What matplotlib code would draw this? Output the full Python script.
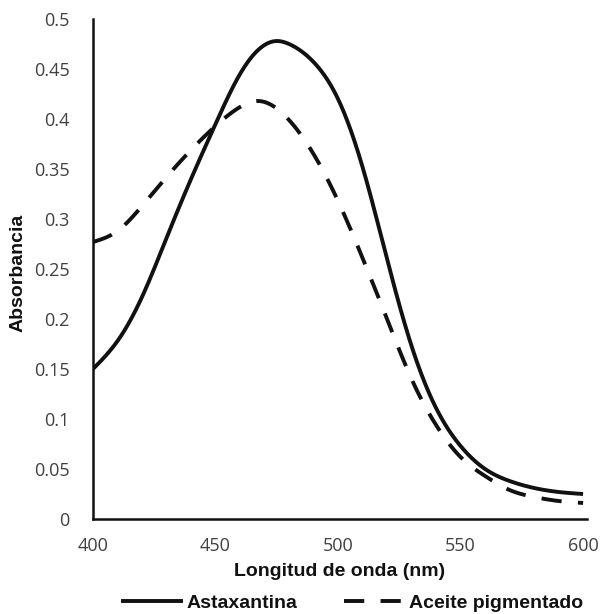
import matplotlib
matplotlib.use("Agg")
import matplotlib.pyplot as plt
import numpy as np

wl_ast = [400, 410, 420, 430, 440, 450, 460, 470, 475, 480, 490, 500, 510, 520, 530, 540, 550, 560, 570, 580, 590, 600]
abs_ast = [0.150, 0.178, 0.222, 0.281, 0.340, 0.395, 0.445, 0.474, 0.478, 0.475, 0.457, 0.420, 0.352, 0.260, 0.173, 0.111, 0.073, 0.050, 0.038, 0.031, 0.027, 0.025]

wl_oil = [400, 410, 420, 430, 440, 450, 460, 467, 470, 480, 490, 500, 510, 520, 530, 540, 550, 560, 570, 580, 590, 600]
abs_oil = [0.277, 0.288, 0.313, 0.342, 0.369, 0.393, 0.412, 0.418, 0.417, 0.399, 0.365, 0.318, 0.261, 0.200, 0.140, 0.094, 0.062, 0.043, 0.029, 0.022, 0.018, 0.016]

x_ticks = [400, 450, 500, 550, 600]
y_ticks = [0, 0.05, 0.1, 0.15, 0.2, 0.25, 0.3, 0.35, 0.4, 0.45, 0.5]
y_tick_labels = ["0", "0.05", "0.1", "0.15", "0.2", "0.25", "0.3", "0.35", "0.4", "0.45", "0.5"]


def natural_spline(x, y, n=600):
    x = np.asarray(x, float)
    y = np.asarray(y, float)
    m = len(x)
    h = np.diff(x)
    A = np.zeros((m, m))
    b = np.zeros(m)
    A[0, 0] = 1
    A[-1, -1] = 1
    for i in range(1, m - 1):
        A[i, i - 1] = h[i - 1]
        A[i, i] = 2 * (h[i - 1] + h[i])
        A[i, i + 1] = h[i]
        b[i] = 6 * ((y[i + 1] - y[i]) / h[i] - (y[i] - y[i - 1]) / h[i - 1])
    M = np.linalg.solve(A, b)
    xs = np.linspace(x[0], x[-1], n)
    idx = np.clip(np.searchsorted(x, xs) - 1, 0, m - 2)
    x0, x1 = x[idx], x[idx + 1]
    hh = x1 - x0
    t0 = x1 - xs
    t1 = xs - x0
    ys = (M[idx] * t0**3 / (6 * hh) + M[idx + 1] * t1**3 / (6 * hh)
          + (y[idx] / hh - M[idx] * hh / 6) * t0
          + (y[idx + 1] / hh - M[idx + 1] * hh / 6) * t1)
    return xs, ys


W, H = 601, 614
fig = plt.figure(figsize=(W / 100, H / 100), dpi=100)
ax = fig.add_axes([93 / W, 1 - 519 / H, (587 - 93) / W, (519 - 19) / H])

xa, ya = natural_spline(wl_ast, abs_ast)
xo, yo = natural_spline(wl_oil, abs_oil)
lw = 2.8
ax.plot(xa, ya, color="#111111", lw=lw, solid_capstyle="butt", label="Astaxantina")
ax.plot(xo, yo, color="#111111", lw=lw, dashes=(5.2, 4.2), dash_capstyle="butt",
        label="Aceite pigmentado")

ax.set_xlim(400, 601.6)
ax.set_ylim(0, 0.5)
ax.set_xticks(x_ticks)
ax.set_yticks(y_ticks)
ax.set_yticklabels(y_tick_labels)
ax.tick_params(length=0, labelsize=13, labelcolor="#404040")
ax.tick_params(axis="y", pad=17)
ax.tick_params(axis="x", pad=13)
for lab in ax.get_xticklabels() + ax.get_yticklabels():
    lab.set_family("Open Sans")
for s in ["top", "right"]:
    ax.spines[s].set_visible(False)
for s in ["left", "bottom"]:
    ax.spines[s].set_linewidth(1.8)
    ax.spines[s].set_color("#111111")

fig.text(340 / W, 1 - 571 / H, "Longitud de onda (nm)", fontsize=14, fontweight="bold",
         family="Liberation Sans", ha="center", va="center", color="#111111")
fig.text(18 / W, 1 - 273 / H, "Absorbancia", fontsize=14, fontweight="bold",
         family="Liberation Sans", ha="center", va="center", rotation=90, color="#111111")

fig.legend(loc="center", bbox_to_anchor=(352 / W, 1 - 603 / H), ncol=2, frameon=False,
           prop={"family": "Liberation Sans", "weight": "bold", "size": 14},
           handlelength=3.2, handletextpad=0.15, columnspacing=2.4, borderpad=0,
           labelcolor="#111111")

fig.savefig("out.png", dpi=100)
